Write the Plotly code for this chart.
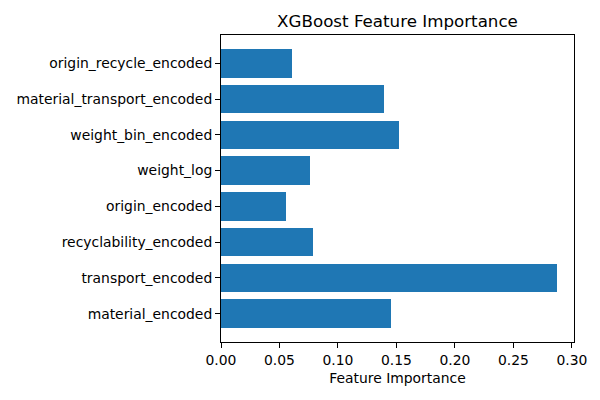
import plotly.graph_objects as go

features = ["material_encoded", "transport_encoded", "recyclability_encoded", "origin_encoded",
            "weight_log", "weight_bin_encoded", "material_transport_encoded", "origin_recycle_encoded"]
importance = [0.1453, 0.2874, 0.0785, 0.0554, 0.0759, 0.1521, 0.1393, 0.0611]

fig = go.Figure(go.Bar(
    x=importance, y=list(range(len(features))), orientation="h",
    marker=dict(color="#1f77b4", line=dict(width=0)), width=0.8,
))
xmax = max(importance) * 1.05
fig.update_layout(
    width=600, height=400,
    margin=dict(l=221, r=26, t=35, b=58),
    paper_bgcolor="white", plot_bgcolor="white",
    font=dict(family="DejaVu Sans", size=13.9, color="black"),
    title=dict(text="XGBoost Feature Importance", x=(221 + 574) / 2 / 600, xanchor="center",
               y=1 - 21 / 400, yanchor="middle", font=dict(size=16.7)),
    showlegend=False,
    bargap=0,
)
fig.update_xaxes(
    range=[0, xmax], tickvals=[0, 0.05, 0.1, 0.15, 0.2, 0.25, 0.3],
    ticktext=["0.00", "0.05", "0.10", "0.15", "0.20", "0.25", "0.30"],
    showline=True, linecolor="black", linewidth=1, mirror=True,
    ticks="outside", ticklen=5, tickcolor="black", showgrid=False, zeroline=False,
    title=dict(text="Feature Importance", standoff=6, font=dict(size=13.9)),
)
fig.update_yaxes(
    range=[-0.79, 7.79], tickvals=list(range(len(features))), ticktext=features,
    showline=True, linecolor="black", linewidth=1, mirror=True,
    ticks="outside", ticklen=5, tickcolor="black", showgrid=False, zeroline=False,
)
fig.write_html("out.html")
